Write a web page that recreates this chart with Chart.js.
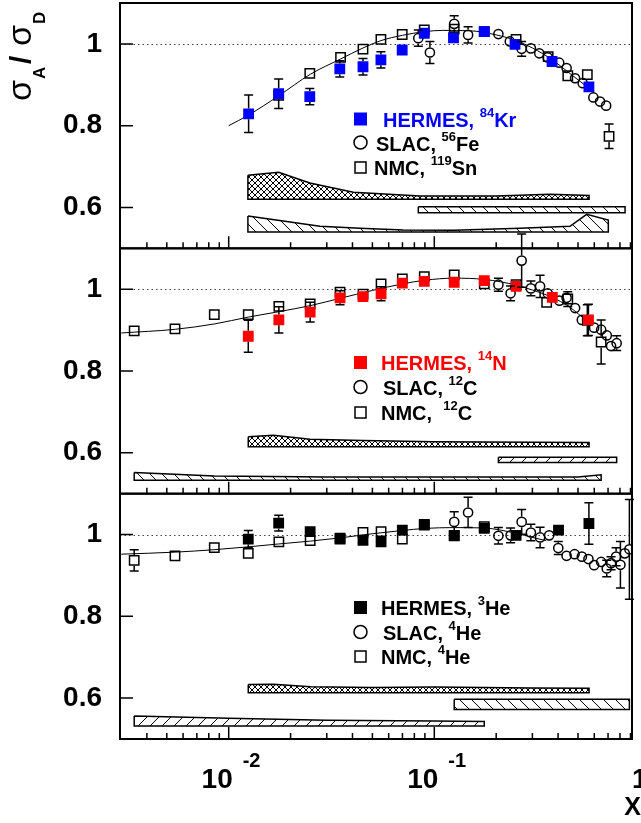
<!DOCTYPE html>
<html>
<head>
<meta charset="utf-8">
<script src="https://cdn.jsdelivr.net/npm/chart.js@4.4.0/dist/chart.umd.min.js"></script>
<style>
  html, body { margin: 0; padding: 0; background: #fff; }
  #c { display: block; }
</style>
</head>
<body>
<canvas id="c" width="641" height="823"></canvas>
<script>
// ---------- panel 1 : Kr / Fe / Sn ----------
const xKrH = [0.0125, 0.0175, 0.0248, 0.0347, 0.045, 0.055, 0.0698, 0.0894, 0.124, 0.175, 0.247, 0.374, 0.565];
const yKrH = [0.829, 0.878, 0.871, 0.939, 0.944, 0.961, 0.985, 1.026, 1.015, 1.030, 0.999, 0.957, 0.895];
const eKrH = [0.046, 0.036, 0.020, 0.020, 0.020, 0.020, 0.015, 0.012, 0.010, 0.008, 0.008, 0.008, 0.012];
const xFeS = [0.0836, 0.0952, 0.125, 0.146, 0.205, 0.233, 0.266, 0.295, 0.324, 0.356, 0.405, 0.44, 0.484, 0.527, 0.594, 0.64, 0.685];
const yFeS = [1.014, 0.979, 1.049, 1.022, 1.024, 1.006, 0.988, 0.989, 0.977, 0.967, 0.954, 0.941, 0.916, 0.904, 0.869, 0.859, 0.849];
const eFeS = [0.020, 0.027, 0.020, 0.020, 0.006, 0.006, 0.018, 0.006, 0.006, 0.006, 0.006, 0.006, 0.006, 0.006, 0.006, 0.006, 0.006];
const xSnN = [0.0175, 0.0248, 0.035, 0.045, 0.055, 0.0698, 0.0894, 0.125, 0.175, 0.25, 0.358, 0.446, 0.555, 0.708];
const ySnN = [0.874, 0.928, 0.967, 0.987, 1.011, 1.023, 1.034, 1.036, 1.030, 1.011, 0.969, 0.922, 0.925, 0.774];
const eSnN = [0.010, 0.008, 0.008, 0.008, 0.008, 0.008, 0.010, 0.012, 0.008, 0.010, 0.010, 0.012, 0.015, 0.030];
const cKrX = [0.01, 0.0125, 0.0175, 0.025, 0.035, 0.045, 0.055, 0.07, 0.09, 0.11, 0.15, 0.2, 0.25, 0.3, 0.375, 0.45, 0.57];
const cKrY = [0.800, 0.826, 0.873, 0.926, 0.963, 0.990, 1.008, 1.021, 1.030, 1.033, 1.032, 1.022, 1.008, 0.990, 0.961, 0.930, 0.890];
// systematic bands (top edge, bottom level)
const bKrAX = [0.0124, 0.0175, 0.0248, 0.0404, 0.0852, 0.2, 0.365, 0.566];
const bKrAY = [0.679, 0.686, 0.660, 0.637, 0.628, 0.628, 0.632, 0.629];
const bKrALow = 0.620;
const bKrBX = [0.0836, 0.847];
const bKrBY = [0.602, 0.602];
const bKrBLow = 0.587;
const bKrCX = [0.0124, 0.0184, 0.0278, 0.0435, 0.0707, 0.124, 0.261, 0.457, 0.551, 0.702];
const bKrCY = [0.579, 0.567, 0.554, 0.549, 0.545, 0.544, 0.549, 0.554, 0.583, 0.569];
const bKrCLow = 0.540;

// ---------- panel 2 : N / C / C ----------
const xNH = [0.01245, 0.01754, 0.0249, 0.0348, 0.045, 0.0551, 0.0699, 0.0894, 0.125, 0.175, 0.25, 0.375, 0.562];
const yNH = [0.885, 0.925, 0.944, 0.979, 0.982, 0.989, 1.015, 1.019, 1.017, 1.021, 1.007, 0.980, 0.925];
const eNH = [0.039, 0.032, 0.024, 0.017, 0.015, 0.017, 0.010, 0.010, 0.008, 0.008, 0.008, 0.010, 0.038];
const xCS = [0.205, 0.235, 0.266, 0.295, 0.327, 0.356, 0.406, 0.44, 0.484, 0.522, 0.599, 0.648, 0.69, 0.724, 0.771];
const yCS = [1.011, 0.990, 1.070, 1.002, 1.007, 0.990, 0.972, 0.979, 0.954, 0.925, 0.906, 0.901, 0.887, 0.861, 0.868];
const eCS = [0.016, 0.018, 0.065, 0.018, 0.027, 0.010, 0.010, 0.012, 0.010, 0.010, 0.010, 0.010, 0.010, 0.012, 0.018];
const xCN = [0.00347, 0.00548, 0.00851, 0.01245, 0.01754, 0.0249, 0.0348, 0.045, 0.0551, 0.0699, 0.0894, 0.125, 0.175, 0.25, 0.352, 0.446, 0.555, 0.648];
const yCN = [0.898, 0.903, 0.938, 0.938, 0.958, 0.964, 0.993, 0.988, 1.013, 1.025, 1.031, 1.035, 1.013, 1.011, 0.968, 0.976, 0.924, 0.871];
const eCN = [0.006, 0.006, 0.006, 0.008, 0.010, 0.008, 0.008, 0.008, 0.008, 0.008, 0.008, 0.008, 0.008, 0.012, 0.012, 0.018, 0.038, 0.054];
const cNX = [0.003, 0.0055, 0.0085, 0.0125, 0.0175, 0.025, 0.035, 0.05, 0.07, 0.09, 0.125, 0.175, 0.25, 0.3, 0.375, 0.45, 0.565];
const cNY = [0.893, 0.902, 0.915, 0.932, 0.945, 0.960, 0.978, 0.997, 1.013, 1.022, 1.027, 1.024, 1.010, 0.998, 0.980, 0.958, 0.918];
const bNAX = [0.01245, 0.0165, 0.0249, 0.045, 0.1, 0.3, 0.566];
const bNAY = [0.639, 0.643, 0.633, 0.630, 0.627, 0.626, 0.625];
const bNALow = 0.615;
const bNBX = [0.205, 0.771];
const bNBY = [0.589, 0.589];
const bNBLow = 0.576;
const bNCX = [0.00347, 0.0085, 0.03, 0.1, 0.5, 0.648];
const bNCY = [0.552, 0.543, 0.541, 0.541, 0.541, 0.546];
const bNCLow = 0.533;

// ---------- panel 3 : He ----------
const xHeH = [0.01245, 0.0175, 0.0249, 0.0348, 0.045, 0.0551, 0.0699, 0.0894, 0.125, 0.175, 0.25, 0.402, 0.565];
const yHeH = [0.989, 1.028, 1.007, 0.989, 0.986, 0.982, 1.011, 1.025, 0.998, 1.015, 0.998, 1.011, 1.027];
const eHeH = [0.021, 0.019, 0.012, 0.008, 0.008, 0.014, 0.008, 0.008, 0.008, 0.008, 0.008, 0.008, 0.051];
const xHeS = [0.125, 0.146, 0.205, 0.235, 0.266, 0.295, 0.327, 0.362, 0.401, 0.44, 0.481, 0.522, 0.562, 0.599, 0.648, 0.69, 0.724, 0.766, 0.804, 0.844, 0.889];
const yHeS = [1.031, 1.054, 0.997, 0.998, 1.031, 1.005, 0.993, 0.998, 0.967, 0.948, 0.952, 0.946, 0.940, 0.925, 0.933, 0.917, 0.930, 0.946, 0.926, 0.954, 0.964];
const eHeS = [0.025, 0.037, 0.020, 0.018, 0.030, 0.020, 0.025, 0.015, 0.016, 0.014, 0.012, 0.012, 0.012, 0.012, 0.012, 0.020, 0.016, 0.022, 0.057, 0.015, 0.122];
const xHeN = [0.00347, 0.00548, 0.00851, 0.01245, 0.01754, 0.0249, 0.0348, 0.045, 0.0551, 0.0699, 0.0894, 0.125, 0.175];
const yHeN = [0.937, 0.948, 0.968, 0.954, 0.982, 0.985, 0.991, 1.005, 1.007, 0.989, 1.023, 0.997, 1.019];
const eHeN = [0.026, 0.006, 0.006, 0.006, 0.006, 0.006, 0.006, 0.006, 0.006, 0.006, 0.006, 0.006, 0.006];
const cHeX = [0.003, 0.0055, 0.0085, 0.0125, 0.0175, 0.025, 0.035, 0.05, 0.07, 0.09, 0.125, 0.175, 0.25, 0.3, 0.35];
const cHeY = [0.952, 0.957, 0.963, 0.970, 0.977, 0.984, 0.992, 1.002, 1.010, 1.015, 1.017, 1.016, 1.003, 0.993, 0.985];
const bHeAX = [0.01245, 0.0165, 0.025, 0.05, 0.1, 0.3, 0.566];
const bHeAY = [0.633, 0.634, 0.628, 0.626, 0.627, 0.625, 0.624];
const bHeALow = 0.613;
const bHeBX = [0.125, 0.889];
const bHeBY = [0.597, 0.597];
const bHeBLow = 0.572;
const bHeCX = [0.00347, 0.01, 0.03, 0.1, 0.175];
const bHeCY = [0.556, 0.551, 0.546, 0.544, 0.543];
const bHeCLow = 0.532;

// axis ticks
const yTickLabels = [0.6, 0.8, 1];
const xMajorTicks = [0.01, 0.1];
const xMinorTicks = [0.004, 0.005, 0.006, 0.007, 0.008, 0.009, 0.02, 0.03, 0.04, 0.05, 0.06, 0.07, 0.08, 0.09, 0.2, 0.3, 0.4, 0.5, 0.6, 0.7, 0.8, 0.9];

// legend texts [main, superscript, element]
const legKr = [['HERMES, ', '84', 'Kr'], ['SLAC, ', '56', 'Fe'], ['NMC, ', '119', 'Sn']];
const legN = [['HERMES, ', '14', 'N'], ['SLAC, ', '12', 'C'], ['NMC,  ', '12', 'C']];
const legHe = [['HERMES, ', '3', 'He'], ['SLAC, ', '4', 'He'], ['NMC, ', '4', 'He']];

const FONT = '"Liberation Sans", Arial, Helvetica, sans-serif';
const BLUE = '#0000ff', RED = '#ff0000', BLACK = '#000000';

const canvas = document.getElementById('c');
const ctx = canvas.getContext('2d');

const pts = (xs, ys) => xs.map((x, i) => ({x, y: ys[i]}));
function band(xs, ys, low) {
  const p = pts(xs, ys);
  p.push({x: xs[xs.length - 1], y: low});
  p.push({x: xs[0], y: low});
  p.push({x: xs[0], y: ys[0]});
  return p;
}
function hatch(kind, p) {
  const c = document.createElement('canvas');
  c.width = c.height = p;
  const g = c.getContext('2d');
  g.fillStyle = '#fff';
  g.fillRect(0, 0, p, p);
  g.strokeStyle = '#000';
  g.lineWidth = 1;
  g.beginPath();
  for (let k = -1; k <= 1; k++) {
    if (kind !== '/') { g.moveTo(k * p, 0); g.lineTo(k * p + p, p); }
    if (kind !== '\\') { g.moveTo(k * p, p); g.lineTo(k * p + p, 0); }
  }
  g.stroke();
  return ctx.createPattern(c, 'repeat');
}
const patX = hatch('x', 6);
const patB = hatch('\\', 12);
const patF = hatch('/', 12);

function markers(axis, xs, ys, errs, style, color, filled) {
  const r = style === 'circle' ? 4.6 : 6.6;
  return {
    yAxisID: axis, data: pts(xs, ys), errs, showLine: false,
    pointStyle: style, pointRadius: r, pointHoverRadius: r, pointBorderWidth: 1.5,
    pointBorderColor: color, pointBackgroundColor: filled ? color : 'rgba(0,0,0,0)'
  };
}
function curve(axis, xs, ys) {
  return {yAxisID: axis, data: pts(xs, ys), borderColor: BLACK, borderWidth: 1,
    pointRadius: 0, cubicInterpolationMode: 'monotone', fill: false};
}
function shade(axis, xs, ys, low, pat) {
  return {yAxisID: axis, data: band(xs, ys, low), borderColor: BLACK, borderWidth: 1.5,
    pointRadius: 0, tension: 0, fill: 'shape', backgroundColor: pat};
}

const datasets = [
  markers('yKr', xKrH, yKrH, eKrH, 'rect', BLUE, true),
  markers('yN', xNH, yNH, eNH, 'rect', RED, true),
  markers('yHe', xHeH, yHeH, eHeH, 'rect', BLACK, true),
  markers('yKr', xFeS, yFeS, eFeS, 'circle', BLACK, false),
  markers('yKr', xSnN, ySnN, eSnN, 'rect', BLACK, false),
  markers('yN', xCS, yCS, eCS, 'circle', BLACK, false),
  markers('yN', xCN, yCN, eCN, 'rect', BLACK, false),
  markers('yHe', xHeS, yHeS, eHeS, 'circle', BLACK, false),
  markers('yHe', xHeN, yHeN, eHeN, 'rect', BLACK, false),
  curve('yKr', cKrX, cKrY),
  curve('yN', cNX, cNY),
  curve('yHe', cHeX, cHeY),
  shade('yKr', bKrAX, bKrAY, bKrALow, patX),
  shade('yKr', bKrBX, bKrBY, bKrBLow, patB),
  shade('yKr', bKrCX, bKrCY, bKrCLow, patB),
  shade('yN', bNAX, bNAY, bNALow, patX),
  shade('yN', bNBX, bNBY, bNBLow, patF),
  shade('yN', bNCX, bNCY, bNCLow, patB),
  shade('yHe', bHeAX, bHeAY, bHeALow, patX),
  shade('yHe', bHeBX, bHeBY, bHeBLow, patB),
  shade('yHe', bHeCX, bHeCY, bHeCLow, patF)
];

function yAxis(weight) {
  return {
    type: 'linear', position: 'left', stack: 'panels', stackWeight: 1, weight,
    min: 0.5, max: 1.1,
    grid: {display: false, drawTicks: false},
    border: {display: false},
    ticks: {
      stepSize: 0.1, autoSkip: false, padding: 18, color: BLACK,
      font: {family: FONT, size: 28, weight: 'bold'},
      callback: v => yTickLabels.some(t => Math.abs(t - v) < 1e-6) ? (Math.abs(v - 1) < 1e-6 ? '1' : v.toFixed(1)) : ''
    },
    afterFit: s => { s.width = 120; s.paddingTop = 0; s.paddingBottom = 0; }
  };
}

function richText(x, base, parts, color) {
  ctx.fillStyle = color;
  ctx.textAlign = 'left';
  ctx.textBaseline = 'alphabetic';
  for (const [t, size, rise] of parts) {
    ctx.font = `bold ${size}px ${FONT}`;
    ctx.fillText(t, x, base - rise);
    x += ctx.measureText(t).width;
  }
}

function drawLegend(rows, ys, xs, color) {
  const kinds = ['sq', 'ci', 'os'];
  rows.forEach((row, i) => {
    const c = ys[i];
    const col = i === 0 ? color : BLACK;
    ctx.lineWidth = 1.5;
    ctx.strokeStyle = BLACK;
    if (kinds[i] === 'sq') {
      ctx.fillStyle = col;
      ctx.fillRect(354, c - 7, 13, 13);
    } else if (kinds[i] === 'ci') {
      ctx.beginPath();
      ctx.arc(360.5, c - 1, 6.5, 0, Math.PI * 2);
      ctx.stroke();
    } else {
      ctx.strokeRect(355, c - 6, 11, 11);
    }
    richText(xs[i], c + 7, [[row[0], 20, 0], [row[1], 13, 10], [row[2], 20, 0]], col);
  });
}

const decor = {
  id: 'decor',
  beforeDatasetsDraw(chart) {
    const {ctx: g, chartArea: a} = chart;
    g.save();
    g.strokeStyle = '#444';
    g.lineWidth = 1;
    g.setLineDash([1.5, 3]);
    for (const id of ['yKr', 'yN', 'yHe']) {
      const y = Math.round(chart.scales[id].getPixelForValue(1)) + 0.5;
      g.beginPath();
      g.moveTo(a.left, y);
      g.lineTo(a.right, y);
      g.stroke();
    }
    g.restore();
  },
  afterDatasetsDraw(chart) {
    const g = chart.ctx;
    g.save();
    g.strokeStyle = BLACK;
    g.lineWidth = 1.5;
    chart.data.datasets.forEach((ds, i) => {
      if (!ds.errs) return;
      const ys = chart.scales[ds.yAxisID];
      const gap = ds.pointStyle === 'circle' ? ds.pointRadius + 0.75 : ds.pointRadius * Math.SQRT1_2 + 0.75;
      chart.getDatasetMeta(i).data.forEach((el, j) => {
        const v = ds.data[j].y, e = ds.errs[j];
        const top = ys.getPixelForValue(v + e), bot = ys.getPixelForValue(v - e);
        g.beginPath();
        if (top < el.y - gap - 1) {
          g.moveTo(el.x, el.y - gap); g.lineTo(el.x, top);
          g.moveTo(el.x - 4.5, top); g.lineTo(el.x + 4.5, top);
        }
        if (bot > el.y + gap + 1) {
          g.moveTo(el.x, el.y + gap); g.lineTo(el.x, bot);
          g.moveTo(el.x - 4.5, bot); g.lineTo(el.x + 4.5, bot);
        }
        g.stroke();
      });
    });
    g.restore();
  },
  afterDraw(chart) {
    const g = chart.ctx;
    const a = chart.chartArea;
    const xs = chart.scales.x;
    g.save();
    // frames and ticks
    for (const id of ['yKr', 'yN', 'yHe']) {
      const s = chart.scales[id];
      g.strokeStyle = BLACK;
      g.lineWidth = 2;
      g.strokeRect(a.left, s.top, a.right - a.left, s.bottom - s.top);
      g.lineWidth = 1.5;
      g.beginPath();
      for (const t of yTickLabels) {
        const y = s.getPixelForValue(t);
        g.moveTo(a.left, y); g.lineTo(a.left + 13, y);
      }
      for (const t of xMajorTicks) {
        const x = xs.getPixelForValue(t);
        g.moveTo(x, s.bottom); g.lineTo(x, s.bottom - 12);
      }
      for (const t of xMinorTicks) {
        const x = xs.getPixelForValue(t);
        if (x > a.right) continue;
        g.moveTo(x, s.bottom); g.lineTo(x, s.bottom - 6);
      }
      g.stroke();
    }
    // x labels
    g.fillStyle = BLACK;
    g.textBaseline = 'alphabetic';
    [[0.01, '-2'], [0.1, '-1']].forEach(([v, ex]) => {
      const x = xs.getPixelForValue(v);
      g.font = `bold 28px ${FONT}`;
      g.textAlign = 'right';
      g.fillText('10', x + 4, 788);
      g.font = `bold 20px ${FONT}`;
      g.textAlign = 'left';
      g.fillText(ex, x + 14, 767);
    });
    g.font = `bold 28px ${FONT}`;
    g.textAlign = 'center';
    g.fillText('1', xs.getPixelForValue(1), 788);
    g.font = `bold 25px ${FONT}`;
    g.textAlign = 'right';
    g.fillText('X', 641, 815);
    // y title
    g.save();
    g.translate(31, 101);
    g.rotate(-Math.PI / 2);
    g.textAlign = 'left';
    g.font = `34px ${FONT}`;
    g.fillText('σ', 0, 0);
    g.font = `bold 17px ${FONT}`;
    g.fillText('A', 22, 14);
    g.font = `bold 30px ${FONT}`;
    g.fillText('/', 37, 0);
    g.font = `34px ${FONT}`;
    g.fillText('σ', 55, 0);
    g.font = `bold 17px ${FONT}`;
    g.fillText('D', 77, 14);
    g.restore();
    // legends
    drawLegend(legKr, [119.5, 143.5, 168], [383, 376, 374], BLUE);
    drawLegend(legN, [363, 388, 413], [381, 383, 381], RED);
    drawLegend(legHe, [608, 633, 657], [381, 383, 381], BLACK);
    g.restore();
  }
};

new Chart(ctx, {
  type: 'line',
  data: {datasets},
  options: {
    responsive: false,
    animation: false,
    devicePixelRatio: 1,
    events: [],
    layout: {autoPadding: false, padding: {left: 0, right: 9, top: 3, bottom: 0}},
    plugins: {legend: {display: false}, tooltip: {enabled: false}},
    scales: {
      x: {
        type: 'logarithmic', position: 'bottom', bounds: 'data',
        min: 0.00296, max: 0.9154,
        grid: {display: false, drawTicks: false},
        border: {display: false},
        ticks: {display: false},
        afterFit: s => { s.height = 84; s.paddingLeft = 0; s.paddingRight = 0; }
      },
      yKr: yAxis(3),
      yN: yAxis(2),
      yHe: yAxis(1)
    }
  },
  plugins: [decor]
});
</script>
</body>
</html>
